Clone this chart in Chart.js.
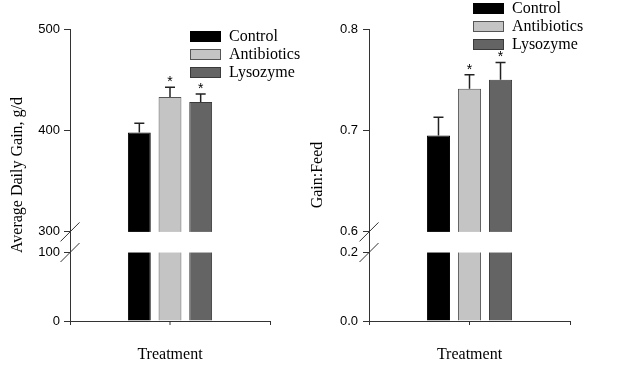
<!DOCTYPE html>
<html>
<head>
<meta charset="utf-8">
<script src="https://cdn.jsdelivr.net/npm/chart.js@4/dist/chart.umd.min.js"></script>
<style>
  html, body { margin: 0; padding: 0; background: #fff; }
  #wrap { position: relative; width: 617px; height: 368px; overflow: hidden; }
  .pane { position: absolute; top: 0; height: 368px; }
  .legend { position: absolute; font: 16px "Liberation Serif", "Times New Roman", serif; color: #000; }
  .legend div { position: relative; height: 18px; line-height: 18px; white-space: nowrap; }
  .legend span.box { position: absolute; left: 0; top: 4px; width: 29px; height: 9px; border: 1px solid #333; }
  .legend span.txt { position: absolute; left: 39px; top: 0; }
</style>
</head>
<body>
<div id="wrap">
  <div class="pane" style="left:0;width:310px"><canvas id="adg" width="310" height="368"></canvas></div>
  <div class="pane" style="left:310px;width:307px"><canvas id="gf" width="307" height="368"></canvas></div>
  <div class="legend" id="legAdg" style="left:190px;top:27px"></div>
  <div class="legend" id="legGf" style="left:473px;top:-1px"></div>
</div>
<script>
const Treatments = ["Control", "Antibiotics", "Lysozyme"];
const Fills = ["#000000", "#c4c4c4", "#646464"];
const Borders = ["#000000", "#555555", "#3a3a3a"];

const AdgMeans = [398, 433, 428];
const AdgErrors = [9, 9.5, 8];
const AdgStars = ["", "*", "*"];
const AdgTicks = [0, 100, 300, 400, 500];

const GfMeans = [0.695, 0.741, 0.750];
const GfErrors = [0.018, 0.014, 0.017];
const GfStars = ["", "*", "*"];
const GfTicks = [0, 0.2, 0.6, 0.7, 0.8];

// linear scale with a cut-out section between brk.low and brk.high
class BrokenScale extends Chart.LinearScale {
  static id = "broken";
  static defaults = Chart.LinearScale.defaults;
  _frac(v) {
    const b = this.options.brk;
    const min = this.min, max = this.max;
    if (v <= b.low) return (v - min) / (b.low - min) * b.lowFrac;
    if (v < b.high) return b.lowFrac + (v - b.low) / (b.high - b.low) * b.gapFrac;
    return b.lowFrac + b.gapFrac + (v - b.high) / (max - b.high) * (1 - b.lowFrac - b.gapFrac);
  }
  getPixelForValue(v) {
    return this.getPixelForDecimal(this._frac(v));
  }
  getValueForPixel(p) {
    const b = this.options.brk;
    let d = this.getDecimalForPixel(p);
    if (d <= b.lowFrac) return this.min + d / b.lowFrac * (b.low - this.min);
    if (d < b.lowFrac + b.gapFrac) return b.low + (d - b.lowFrac) / b.gapFrac * (b.high - b.low);
    return b.high + (d - b.lowFrac - b.gapFrac) / (1 - b.lowFrac - b.gapFrac) * (this.max - b.high);
  }
}
Chart.register(BrokenScale);

const BreakPlugin = {
  id: "breakDecor",
  afterDatasetsDraw(chart, args, opts) {
    const { ctx, chartArea } = chart;
    const y = chart.scales.y;
    const b = y.options.brk;
    const yHigh = y.getPixelForValue(b.high);
    const yLow = y.getPixelForValue(b.low);
    ctx.save();
    // white band through the bars
    ctx.fillStyle = "#fff";
    ctx.fillRect(chartArea.left + 1, yHigh, chartArea.right - chartArea.left, yLow - yHigh);

    // error bars and stars
    ctx.strokeStyle = "#222";
    ctx.lineWidth = 1.5;
    opts.means.forEach((m, i) => {
      const bar = chart.getDatasetMeta(i).data[0];
      const top = y.getPixelForValue(m + opts.errors[i]);
      ctx.beginPath();
      ctx.moveTo(bar.x, bar.y);
      ctx.lineTo(bar.x, top);
      ctx.moveTo(bar.x - 5, top);
      ctx.lineTo(bar.x + 5, top);
      ctx.stroke();
      if (opts.stars[i]) {
        ctx.fillStyle = "#000";
        ctx.font = '14px "Liberation Sans", Arial, sans-serif';
        ctx.textAlign = "center";
        ctx.textBaseline = "alphabetic";
        ctx.fillText(opts.stars[i], bar.x, top - 1);
      }
    });

    // break marks on the y axis
    ctx.strokeStyle = "#333";
    ctx.lineWidth = 1;
    [yHigh, yLow].forEach(py => {
      ctx.beginPath();
      ctx.moveTo(chartArea.left - 9.5, py + 9.5);
      ctx.lineTo(chartArea.left + 9.5, py - 9.5);
      ctx.stroke();
    });

    // middle tick on the x axis
    const mid = (chartArea.left + chartArea.right) / 2;
    ctx.beginPath();
    ctx.moveTo(mid, chartArea.bottom);
    ctx.lineTo(mid, chartArea.bottom + 4);
    ctx.stroke();
    ctx.restore();
  }
};

function CreateBreakChart(CanvasID, YTitle, Means, Errors, Stars, Ticks, Brk, Layout) {
  const Datasets = Treatments.map((t, i) => ({
    label: t,
    data: [Means[i]],
    backgroundColor: Fills[i],
    borderColor: Borders[i],
    borderWidth: 1,
    categoryPercentage: Layout.catPct,
    barPercentage: 0.745
  }));

  const Config = {
    type: "bar",
    data: { labels: ["Treatment"], datasets: Datasets },
    options: {
      responsive: false,
      animation: false,
      events: [],
      layout: { padding: { top: 29, right: Layout.padRight, bottom: 0, left: 0 } },
      plugins: {
        legend: { display: false },
        tooltip: { enabled: false },
        breakDecor: { means: Means, errors: Errors, stars: Stars }
      },
      scales: {
        x: {
          ticks: { display: false },
          grid: { drawOnChartArea: false, tickLength: 4, color: "#333" },
          border: { color: "#333", width: 1 },
          title: {
            display: true, text: "Treatment", color: "#000",
            font: { family: '"Liberation Serif", "Times New Roman", serif', size: 16, lineHeight: 1 },
            padding: { top: 0, bottom: 5 }
          },
          afterFit: s => { s.height = 47; }
        },
        y: {
          type: "broken",
          min: Ticks[0],
          max: Ticks[Ticks.length - 1],
          brk: Brk,
          afterBuildTicks: s => { s.ticks = Ticks.map(v => ({ value: v })); },
          ticks: {
            autoSkip: false,
            color: "#000",
            padding: Layout.tickPad,
            font: { family: '"Liberation Sans", Arial, sans-serif', size: 13 },
            callback: Layout.fmt
          },
          grid: { drawOnChartArea: false, tickLength: 6, color: "#333" },
          border: { color: "#333", width: 1 },
          title: {
            display: true, text: YTitle, color: "#000",
            font: { family: '"Liberation Serif", "Times New Roman", serif', size: 16, lineHeight: 1 },
            padding: { top: Layout.titlePad, bottom: 0 }
          },
          afterFit: s => { s.width = Layout.axisWidth; }
        }
      }
    },
    plugins: [BreakPlugin]
  };
  return new Chart(document.getElementById(CanvasID), Config);
}

function BuildLegend(ElementID) {
  const Box = document.getElementById(ElementID);
  Treatments.forEach((t, i) => {
    const Row = document.createElement("div");
    const Swatch = document.createElement("span");
    Swatch.className = "box";
    Swatch.style.background = Fills[i];
    Swatch.style.borderColor = i === 0 ? "#000" : Borders[i];
    const Txt = document.createElement("span");
    Txt.className = "txt";
    Txt.textContent = t;
    Row.appendChild(Swatch);
    Row.appendChild(Txt);
    Box.appendChild(Row);
  });
}

CreateBreakChart("adg", "Average Daily Gain, g/d", AdgMeans, AdgErrors, AdgStars, AdgTicks,
  { low: 100, high: 300, lowFrac: 0.2345, gapFrac: 0.0706 },
  { catPct: 0.46, padRight: 40, axisWidth: 70, tickPad: 4, titlePad: 10, fmt: v => String(v) });

CreateBreakChart("gf", "Gain:Feed", GfMeans, GfErrors, GfStars, GfTicks,
  { low: 0.2, high: 0.6, lowFrac: 0.2345, gapFrac: 0.0706 },
  { catPct: 0.463, padRight: 47, axisWidth: 59, tickPad: 5, titlePad: 0, fmt: v => v.toFixed(1) });

BuildLegend("legAdg");
BuildLegend("legGf");
</script>
</body>
</html>
